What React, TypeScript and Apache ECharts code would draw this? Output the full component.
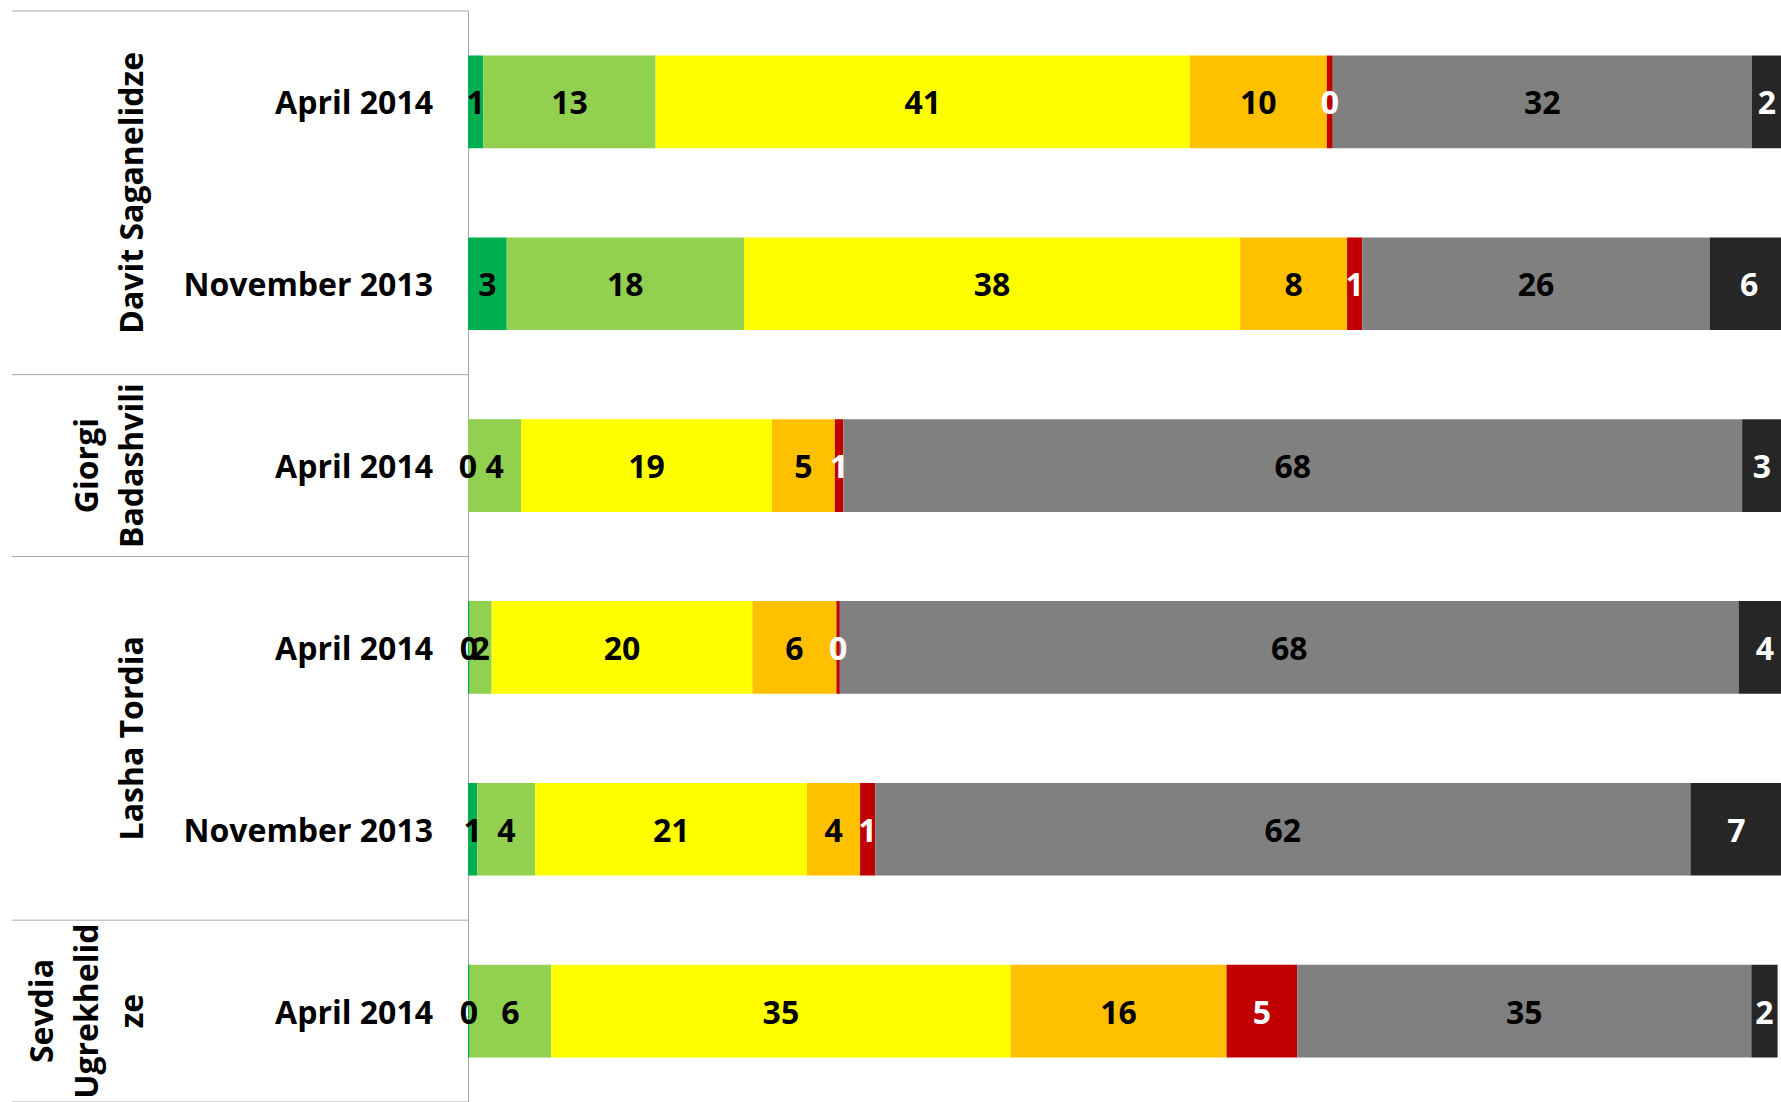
import React, { useEffect, useRef } from "react";
import * as echarts from "echarts";

// Row (category) labels, top to bottom
const rowLabels = ["April 2014", "November 2013", "April 2014", "April 2014", "November 2013", "April 2014"];
// Outer grouping of the rows
const groupNames = ["Davit Saganelidze", "Giorgi\nBadashvili", "Lasha Tordia", "Sevdia\nUgrekhelid\nze"];
const groupSizes = [2, 1, 2, 1];

// Series (stack order left to right)
const seriesNames = [
  "Very favorable",
  "Somewhat favorable",
  "Neutral",
  "Somewhat unfavorable",
  "Very unfavorable",
  "Don't know the person",
  "Refuse to answer",
];
const seriesColors = ["#00B050", "#92D050", "#FFFF00", "#FFC000", "#C00000", "#808080", "#262626"];
const labelColors = ["#000000", "#000000", "#000000", "#000000", "#FFFFFF", "#000000", "#FFFFFF"];

const veryFavorable = [1.16, 2.95, 0, 0.13, 0.71, 0.13];
const somewhatFavorable = [13.13, 18.07, 4.04, 1.67, 4.42, 6.21];
const neutral = [40.68, 37.79, 19.1, 19.86, 20.69, 34.98];
const somewhatUnfavorable = [10.44, 8.14, 4.8, 6.4, 4.04, 16.45];
const veryUnfavorable = [0.45, 1.16, 0.65, 0.26, 1.16, 5.38];
const dontKnow = [31.91, 26.46, 68.45, 68.45, 62.08, 34.59];
const refuse = [2.3, 6, 3, 4, 7, 2];

const seriesValues = [veryFavorable, somewhatFavorable, neutral, somewhatUnfavorable, veryUnfavorable, dontKnow, refuse];

const FONT = "'Open Sans', 'Noto Sans', sans-serif";
const FONT_SIZE = 32;

export default function App() {
  const ref = useRef<HTMLDivElement>(null);

  useEffect(() => {
    if (!ref.current) return;
    const chart = echarts.init(ref.current, undefined, { renderer: "svg" });

    chart.setOption({
      animation: false,
      backgroundColor: "#FFFFFF",
      grid: { left: 468, right: -2, top: 11, bottom: -4, containLabel: false },
      xAxis: {
        type: "value",
        min: 0,
        max: 100,
        show: false,
        splitLine: { show: false },
      },
      yAxis: {
        type: "category",
        inverse: true,
        data: rowLabels.map((_, i) => String(i)),
        axisLine: { show: true, lineStyle: { color: "#A6A6A6", width: 1 } },
        axisTick: { show: false },
        axisLabel: {
          margin: 35,
          formatter: (_v: string, i: number) => rowLabels[i],
          color: "#000000",
          fontFamily: FONT,
          fontWeight: "bold",
          fontSize: FONT_SIZE,
        },
      },
      series: seriesValues.map((vals, si) => ({
        name: seriesNames[si],
        type: "bar",
        stack: "total",
        barWidth: "51%",
        clip: false,
        itemStyle: { color: seriesColors[si] },
        label: {
          show: true,
          position: "inside",
          formatter: (p: any) => String(Math.round(p.value)),
          color: labelColors[si],
          fontFamily: FONT,
          fontWeight: "bold",
          fontSize: FONT_SIZE,
        },
        data: vals,
      })),
    });

    // Group separators and rotated group labels, positioned from the axis scale
    const yOf = (i: number) => chart.convertToPixel({ yAxisIndex: 0 }, i) as number;
    const axisX = chart.convertToPixel({ xAxisIndex: 0 }, 0) as number;
    const band = yOf(1) - yOf(0);
    const graphics: any[] = [];
    let start = 0;
    const topY = yOf(0) - band / 2;
    graphics.push({
      type: "line",
      shape: { x1: 12, y1: topY, x2: axisX, y2: topY },
      style: { stroke: "#A6A6A6", lineWidth: 1 },
    });
    groupNames.forEach((name, gi) => {
      const y0 = yOf(start) - band / 2;
      const y1 = yOf(start + groupSizes[gi] - 1) + band / 2;
      graphics.push({
        type: "line",
        shape: { x1: 12, y1: y1, x2: axisX, y2: y1 },
        style: { stroke: "#A6A6A6", lineWidth: 1 },
      });
      const nLines = name.split("\n").length;
      graphics.push({
        type: "text",
        x: 130 - ((nLines - 1) * 45) / 2,
        y: (y0 + y1) / 2,
        rotation: Math.PI / 2,
        style: {
          text: name,
          fill: "#000000",
          fontFamily: FONT,
          fontWeight: "bold",
          fontSize: FONT_SIZE,
          lineHeight: 45,
          align: "center",
          verticalAlign: "middle",
        },
      });
      start += groupSizes[gi];
    });
    chart.setOption({ graphic: graphics });

    return () => chart.dispose();
  }, []);

  return (
    <div
      ref={ref}
      style={{ position: "absolute", left: 0, top: 0, width: 1781, height: 1102, overflow: "hidden" }}
    />
  );
}
